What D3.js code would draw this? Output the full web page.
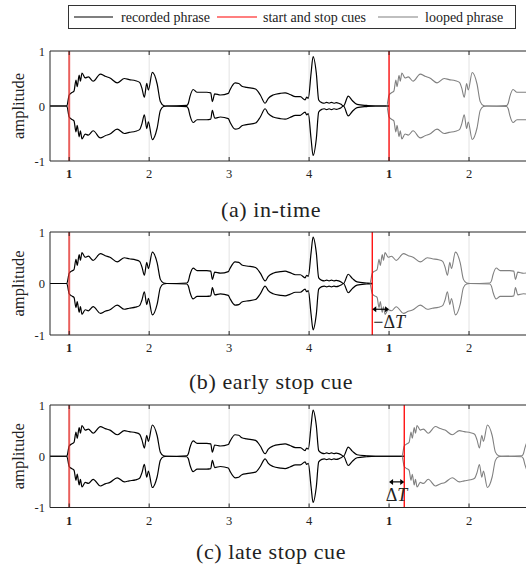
<!DOCTYPE html>
<html>
<head>
<meta charset="utf-8">
<script src="https://cdn.jsdelivr.net/npm/d3@7"></script>
<style>
  body { margin: 0; background: #fff; }
  text { font-family: "Liberation Serif", "DejaVu Serif", serif; fill: #222; }
</style>
</head>
<body>
<div id="chart"></div>
<script>
// envelope of the recorded phrase, in beats
let envT = [0.76, 0.97, 1.0, 1.03, 1.06, 1.085, 1.1, 1.125, 1.14, 1.16, 1.2, 1.24, 1.3, 1.39, 1.45, 1.51, 1.6, 1.69, 1.75, 1.83,
    1.88, 1.91, 1.94, 1.97, 1.99, 2.04, 2.1, 2.14, 2.18, 2.22, 2.47, 2.49, 2.51, 2.55, 2.6, 2.65, 2.72, 2.77, 2.79, 2.82,
    2.89, 2.99, 3.01, 3.075, 3.12, 3.16, 3.22, 3.33, 3.39, 3.45, 3.49, 3.55, 3.64, 3.7, 3.76, 3.83, 3.89, 3.95, 3.97, 3.99,
    4.025, 4.05, 4.09, 4.12, 4.16, 4.19, 4.22, 4.25, 4.28, 4.31, 4.34, 4.37, 4.4, 4.43, 4.49, 4.54, 4.6, 4.72, 4.83, 5.4];
let envA = [0, 0, 0.2, 0.24, 0.27, 0.47, 0.35, 0.56, 0.45, 0.6, 0.51, 0.53, 0.45, 0.58, 0.54, 0.51, 0.42, 0.5, 0.48, 0.46,
    0.43, 0.32, 0.16, 0.41, 0.29, 0.61, 0.4, 0.08, 0.01, 0, 0.01, 0.05, 0.17, 0.3, 0.25, 0.25, 0.25, 0.24, 0.08, 0.22,
    0.2, 0.23, 0.29, 0.42, 0.41, 0.36, 0.34, 0.31, 0.2, 0.05, 0.14, 0.2, 0.23, 0.24, 0.21, 0.17, 0.17, 0.11, 0.16, 0.14,
    0.6, 0.9, 0.6, 0.11, 0.06, 0.05, 0.065, 0.05, 0.065, 0.05, 0.06, 0.05, 0.03, 0, 0.18, 0.1, 0.03, 0.01, 0, 0];

let startCue = 1;
let stopCues = [5, 4.79, 5.19];
let captions = ["(a) in-time", "(b) early stop cue", "(c) late stop cue"];
let deltaLabels = [null, "\u2212\u0394", "\u0394"];
let tickBeats = [1, 2, 3, 4, 5, 6];
let tickLabels = ["1", "2", "3", "4", "1", "2"];
let yTicks = [-1, 0, 1];
let legendNames = ["recorded phrase", "start and stop cues", "looped phrase"];

// layout
let W = 526, H = 564;
let panels = [
    {top: 51, bottom: 161, cap: 217},
    {top: 232, bottom: 335, cap: 389},
    {top: 405, bottom: 507.5, cap: 559}
];
let left = 50, right = 533;

let svg = d3.select("#chart").append("svg")
    .attr("width", W)
    .attr("height", H);

let x = d3.scaleLinear().domain([0.76, 6.8]).range([left, right]);
let env = envT.map((t, i) => ({t: t, a: envA[i]}));

// legend
let lg = svg.append("g");
lg.append("rect")
    .attr("x", 68.5).attr("y", 5.5)
    .attr("width", 447).attr("height", 23)
    .attr("fill", "#fff").attr("stroke", "#333").attr("stroke-width", 1);
let legendItems = [
    {x1: 74, x2: 113, tx: 121, color: "#000"},
    {x1: 217, x2: 257, tx: 263, color: "#ff0000"},
    {x1: 378, x2: 418, tx: 425, color: "#808080"}
];
legendItems.forEach((d, i) => {
    lg.append("line").attr("x1", d.x1).attr("x2", d.x2).attr("y1", 17).attr("y2", 17)
        .attr("stroke", d.color).attr("stroke-width", 1.2);
    lg.append("text").attr("x", d.tx).attr("y", 21.5)
        .attr("font-size", 14).text(legendNames[i]);
});

panels.forEach((p, pi) => {
    let stop = stopCues[pi];
    let y = d3.scaleLinear().domain([-1, 1]).range([p.bottom, p.top]);
    let g = svg.append("g");

    let clipRec = "clipRec" + pi, clipLoop = "clipLoop" + pi;
    let defs = g.append("defs");
    defs.append("clipPath").attr("id", clipRec).append("rect")
        .attr("x", left).attr("y", p.top).attr("width", x(stop) - left).attr("height", p.bottom - p.top);
    defs.append("clipPath").attr("id", clipLoop).append("rect")
        .attr("x", x(stop - 0.03)).attr("y", p.top).attr("width", right - x(stop - 0.03)).attr("height", p.bottom - p.top);

    // grid lines
    g.selectAll(".grid").data(tickBeats).enter().append("line")
        .attr("x1", d => x(d)).attr("x2", d => x(d))
        .attr("y1", p.top).attr("y2", p.bottom)
        .attr("stroke", "#e3e3e3").attr("stroke-width", 1);

    let shift = stop - startCue;
    let upper = d3.line().x(d => x(d.t)).y(d => y(d.a)).curve(d3.curveMonotoneX);
    let lower = d3.line().x(d => x(d.t)).y(d => y(-d.a)).curve(d3.curveMonotoneX);
    let upperLoop = d3.line().x(d => x(d.t + shift)).y(d => y(d.a)).curve(d3.curveMonotoneX);
    let lowerLoop = d3.line().x(d => x(d.t + shift)).y(d => y(-d.a)).curve(d3.curveMonotoneX);

    let rec = g.append("g").attr("clip-path", "url(#" + clipRec + ")");
    rec.append("path").attr("d", upper(env)).attr("fill", "none").attr("stroke", "#000").attr("stroke-width", 1.2);
    rec.append("path").attr("d", lower(env)).attr("fill", "none").attr("stroke", "#000").attr("stroke-width", 1.2);

    let loop = g.append("g").attr("clip-path", "url(#" + clipLoop + ")");
    loop.append("path").attr("d", upperLoop(env)).attr("fill", "none").attr("stroke", "#808080").attr("stroke-width", 1.1);
    loop.append("path").attr("d", lowerLoop(env)).attr("fill", "none").attr("stroke", "#808080").attr("stroke-width", 1.1);

    // cues
    g.append("line").attr("x1", x(startCue)).attr("x2", x(startCue)).attr("y1", p.top).attr("y2", p.bottom)
        .attr("stroke", "#e8302c").attr("stroke-opacity", 0.75).attr("stroke-width", 2);
    g.append("line").attr("x1", x(stop)).attr("x2", x(stop)).attr("y1", p.top).attr("y2", p.bottom)
        .attr("stroke", "#ff0000").attr("stroke-width", 1.3);

    // axes frame
    g.append("line").attr("x1", left).attr("x2", right).attr("y1", p.top).attr("y2", p.top).attr("stroke", "#262626");
    g.append("line").attr("x1", left).attr("x2", right).attr("y1", p.bottom).attr("y2", p.bottom).attr("stroke", "#262626");
    g.append("line").attr("x1", left).attr("x2", left).attr("y1", p.top).attr("y2", p.bottom).attr("stroke", "#262626");

    // inward tick marks
    tickBeats.forEach(d => {
        g.append("line").attr("x1", x(d)).attr("x2", x(d)).attr("y1", p.top).attr("y2", p.top + 4).attr("stroke", "#262626");
        g.append("line").attr("x1", x(d)).attr("x2", x(d)).attr("y1", p.bottom).attr("y2", p.bottom - 4).attr("stroke", "#262626");
    });

    g.selectAll(".xt").data(tickBeats).enter().append("text")
        .attr("x", d => x(d)).attr("y", p.bottom + 17)
        .attr("text-anchor", "middle").attr("font-size", 12.5)
        .attr("font-weight", (d, i) => tickLabels[i] === "1" ? "bold" : "normal")
        .text((d, i) => tickLabels[i]);

    g.selectAll(".yt").data(yTicks).enter().append("text")
        .attr("x", left - 5).attr("y", d => y(d) + 4.5)
        .attr("text-anchor", "end").attr("font-size", 12.5)
        .text(d => d < 0 ? "-" + Math.abs(d) : d);

    g.append("text")
        .attr("transform", "translate(24," + ((p.top + p.bottom) / 2) + ") rotate(-90)")
        .attr("text-anchor", "middle").attr("font-size", 16.5)
        .text("amplitude");

    // delta T annotation
    if (deltaLabels[pi]) {
        let ay = y(-0.5);
        let x1 = Math.min(x(stop), x(5)), x2 = Math.max(x(stop), x(5));
        g.append("line").attr("x1", x1 + 2).attr("x2", x2 - 2).attr("y1", ay).attr("y2", ay)
            .attr("stroke", "#000").attr("stroke-width", 1.2);
        g.append("path").attr("d", "M" + x1 + "," + ay + "l4,-3l0,6z").attr("fill", "#000");
        g.append("path").attr("d", "M" + x2 + "," + ay + "l-4,-3l0,6z").attr("fill", "#000");
        let t = g.append("text")
            .attr("x", pi === 1 ? x1 + 1 : (x1 + x2) / 2 - 11)
            .attr("y", ay + 19).attr("font-size", 18);
        t.append("tspan").text(deltaLabels[pi]);
        t.append("tspan").attr("font-style", "italic").text("T");
    }

    svg.append("text").attr("x", W / 2 + 8).attr("y", p.cap)
        .attr("text-anchor", "middle").attr("font-size", 22).attr("letter-spacing", 0.6)
        .text(captions[pi]);
});
</script>
</body>
</html>
